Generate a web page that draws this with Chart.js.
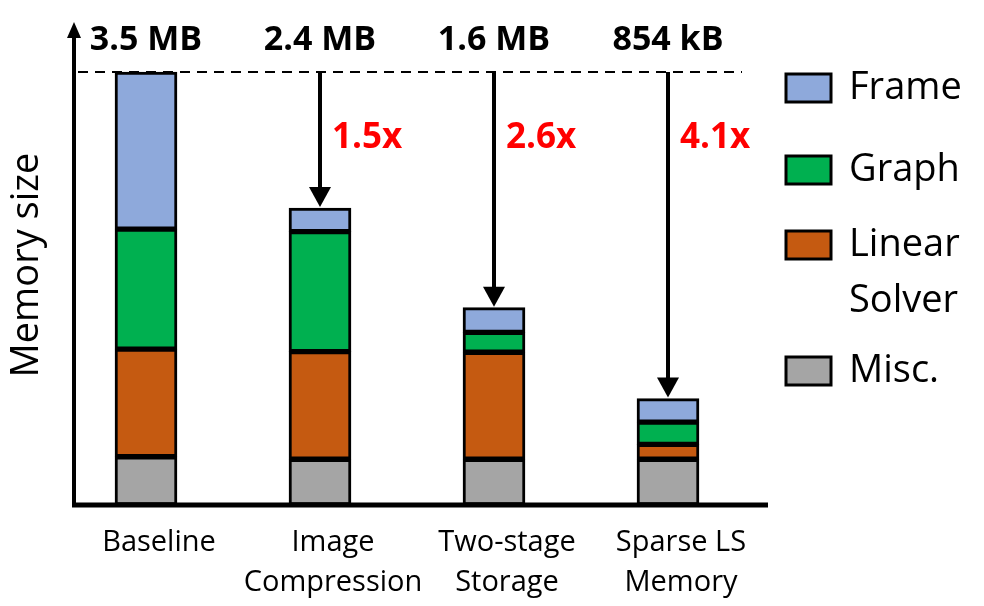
<!DOCTYPE html>
<html>
<head>
<meta charset="utf-8">
<script src="https://cdn.jsdelivr.net/npm/chart.js@4.4.1/dist/chart.umd.min.js"></script>
<style>
  html, body { margin: 0; padding: 0; background: #fff; }
  #wrap { width: 984px; height: 606px; position: relative; }
</style>
</head>
<body>
<div id="wrap"><canvas id="grafico"></canvas></div>
<script>
// dados (MB)
const categorias = [['Baseline'], ['Image', 'Compression'], ['Two-stage', 'Storage'], ['Sparse LS', 'Memory']];
const misc   = [0.39, 0.37, 0.37, 0.37];
const linear = [0.87, 0.87, 0.865, 0.12];
const graph  = [0.97, 0.97, 0.16, 0.18];
const frame  = [1.27, 0.19, 0.20, 0.19];
const rotulosTotal = ['3.5 MB', '2.4 MB', '1.6 MB', '854 kB'];
const rotulosGanho = ['', '1.5x', '2.6x', '4.1x'];
const legendaItens = [['Frame'], ['Graph'], ['Linear', 'Solver'], ['Misc.']];

const FONTE = "'Open Sans', sans-serif";
const cores = { frame: '#8EA9DB', graph: '#00B050', linear: '#C55A11', misc: '#A5A5A5' };

const totais = misc.map((m, i) => m + linear[i] + graph[i] + frame[i]);

// Eixos com seta, linha tracejada, setas, rótulos e legenda
const anotacoes = {
    id: 'anotacoes',
    afterDatasetsDraw(chart) {
        const ctx = chart.ctx;
        const x = chart.scales.x, y = chart.scales.y;
        const base = y.getPixelForValue(0);
        ctx.save();

        // linha tracejada no topo
        const yTopo = y.getPixelForValue(totais[0]);
        ctx.strokeStyle = '#000';
        ctx.lineWidth = 2;
        ctx.setLineDash([10, 7]);
        ctx.beginPath();
        ctx.moveTo(78, yTopo);
        ctx.lineTo(742, yTopo);
        ctx.stroke();
        ctx.setLineDash([]);

        // eixo y com seta
        ctx.lineWidth = 4;
        ctx.beginPath();
        ctx.moveTo(74, base + 2);
        ctx.lineTo(74, 36);
        ctx.stroke();
        ctx.fillStyle = '#000';
        ctx.beginPath();
        ctx.moveTo(74, 22);
        ctx.lineTo(67, 38);
        ctx.lineTo(81, 38);
        ctx.closePath();
        ctx.fill();

        // eixo x
        ctx.lineWidth = 5;
        ctx.beginPath();
        ctx.moveTo(72, base);
        ctx.lineTo(768, base);
        ctx.stroke();

        // setas de redução
        for (let i = 1; i < totais.length; i++) {
            const cx = x.getPixelForValue(i);
            const yb = y.getPixelForValue(totais[i]);
            ctx.lineWidth = 4;
            ctx.beginPath();
            ctx.moveTo(cx, yTopo);
            ctx.lineTo(cx, yb - 18);
            ctx.stroke();
            ctx.beginPath();
            ctx.moveTo(cx, yb - 1);
            ctx.lineTo(cx - 11, yb - 21);
            ctx.lineTo(cx + 11, yb - 21);
            ctx.closePath();
            ctx.fill();
        }

        // rótulos de total
        ctx.font = "bold 34px " + FONTE;
        ctx.textAlign = 'center';
        ctx.textBaseline = 'middle';
        rotulosTotal.forEach((t, i) => {
            ctx.fillText(t, x.getPixelForValue(i), 40);
        });

        // rótulos de ganho
        ctx.fillStyle = '#FF0000';
        ctx.font = "bold 35px " + FONTE;
        ctx.textAlign = 'left';
        rotulosGanho.forEach((t, i) => {
            if (t) ctx.fillText(t, x.getPixelForValue(i) + 12, 138);
        });

        // legenda
        const ds = chart.data.datasets;
        const ordem = [3, 2, 1, 0];
        const centros = [88, 170, 245, 371];
        ctx.font = "38px " + FONTE;
        ctx.lineWidth = 3;
        ordem.forEach((d, k) => {
            const cy = centros[k];
            ctx.fillStyle = ds[d].backgroundColor;
            ctx.fillRect(786, cy - 14, 45, 28);
            ctx.strokeStyle = '#000';
            ctx.strokeRect(786, cy - 14, 45, 28);
            ctx.fillStyle = '#000';
            legendaItens[k].forEach((linha, j) => {
                ctx.fillText(linha, 849, cy + j * 56);
            });
        });

        ctx.restore();
    }
};

const serie = (label, data, cor) => ({
    label, data,
    backgroundColor: cor,
    borderColor: '#000',
    borderWidth: 3,
    borderSkipped: false,
    barThickness: 62
});

new Chart(document.getElementById('grafico'), {
    type: 'bar',
    data: {
        labels: categorias,
        datasets: [
            serie('Misc.', misc, cores.misc),
            serie('Linear Solver', linear, cores.linear),
            serie('Graph', graph, cores.graph),
            serie('Frame', frame, cores.frame)
        ]
    },
    options: {
        responsive: true,
        maintainAspectRatio: false,
        animation: false,
        layout: { padding: { top: 25, right: 229, left: 0, bottom: 0 } },
        plugins: {
            legend: { display: false },
            tooltip: { enabled: false }
        },
        scales: {
            x: {
                stacked: true,
                grid: { display: false },
                border: { display: false },
                ticks: {
                    color: '#000',
                    font: { family: FONTE, size: 29, lineHeight: 1.38 },
                    padding: 10,
                    labelOffset: 13,
                    maxRotation: 0,
                    autoSkip: false
                },
                afterFit(scale) { scale.height = 101; }
            },
            y: {
                stacked: true,
                min: 0,
                max: 3.88,
                grid: { display: false },
                border: { display: false },
                ticks: { display: false },
                title: {
                    display: true,
                    text: 'Memory size',
                    color: '#000',
                    font: { family: FONTE, size: 38 },
                    padding: { top: 4, bottom: 0 }
                },
                afterFit(scale) { scale.width = 59; }
            }
        }
    },
    plugins: [anotacoes]
});
</script>
</body>
</html>
